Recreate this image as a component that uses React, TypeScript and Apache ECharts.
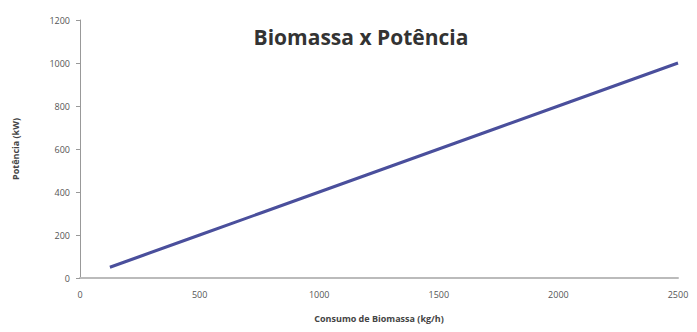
import React, { useEffect, useRef } from "react";
import * as echarts from "echarts";

const consumo = [125, 250, 500, 750, 1000, 1250, 1500, 1750, 2000, 2250, 2500];
const potencia = [50, 100, 200, 300, 400, 500, 600, 700, 800, 900, 1000];
const titleText = "Biomassa x Potência";
const xName = "Consumo de Biomassa (kg/h)";
const yName = "Potência (kW)";

export default function App() {
  const ref = useRef<HTMLDivElement>(null);
  useEffect(() => {
    if (!ref.current) return;
    const chart = echarts.init(ref.current, null, { renderer: "svg" });
    chart.setOption({
      animation: false,
      backgroundColor: "#ffffff",
      title: {
        text: titleText,
        left: 356,
        top: 21,
        textAlign: "center",
        textStyle: { fontFamily: "Open Sans", fontWeight: "bold", fontSize: 21, color: "#333" },
      },
      grid: { left: 80, right: 19, top: 20, bottom: 54 },
      xAxis: {
        type: "value",
        min: 0,
        max: 2500,
        interval: 500,
        name: xName,
        nameLocation: "middle",
        nameGap: 36,
        nameTextStyle: { fontFamily: "Open Sans", fontWeight: "bold", fontSize: 9, color: "#444" },
        axisLine: { show: true, lineStyle: { color: "#bbb", width: 2 } },
        axisTick: { show: false },
        splitLine: { show: false },
        axisLabel: { fontFamily: "Open Sans", fontSize: 9, color: "#555", margin: 12, formatter: (v: number) => String(v) },
      },
      yAxis: {
        type: "value",
        min: 0,
        max: 1200,
        interval: 200,
        name: yName,
        nameLocation: "middle",
        nameGap: 60,
        nameTextStyle: { fontFamily: "Open Sans", fontWeight: "bold", fontSize: 9, color: "#444" },
        axisLine: { show: true, lineStyle: { color: "#999", width: 1 } },
        axisTick: { show: true, length: 4, lineStyle: { color: "#999" } },
        splitLine: { show: false },
        axisLabel: { fontFamily: "Open Sans", fontSize: 9, color: "#555", margin: 10, formatter: (v: number) => String(v) },
      },
      series: [
        {
          type: "line",
          data: consumo.map((c, i) => [c, potencia[i]]),
          showSymbol: false,
          lineStyle: { color: "#4a4f9c", width: 3 },
        },
      ],
    });
    return () => chart.dispose();
  }, []);
  return <div ref={ref} style={{ width: 697, height: 332, position: "absolute", left: 0, top: 0 }} />;
}
